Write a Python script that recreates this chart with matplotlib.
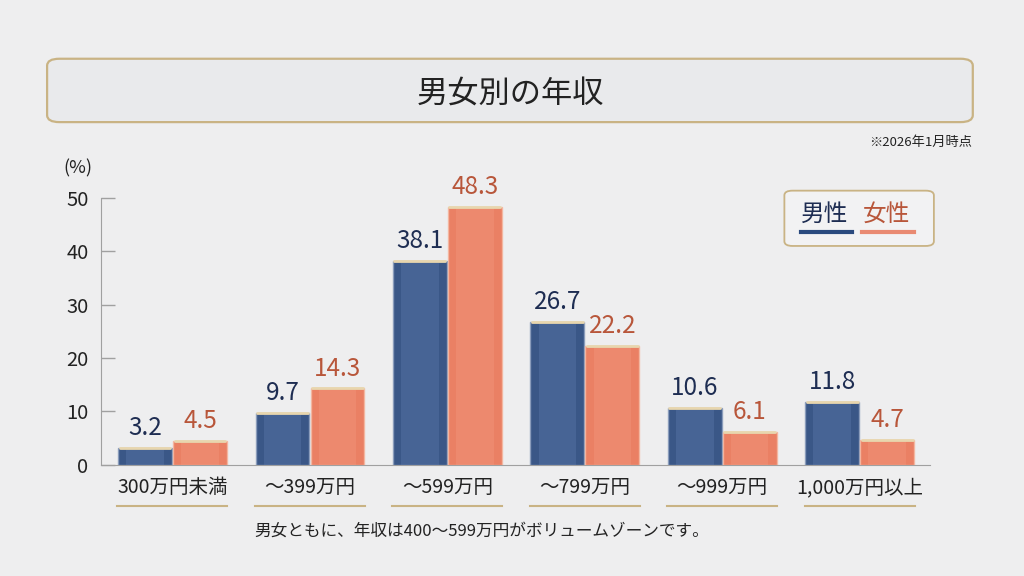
import matplotlib.pyplot as plt
from matplotlib.patches import FancyBboxPatch
from matplotlib.transforms import blended_transform_factory
import numpy as np

plt.rcParams['font.family'] = ['Noto Sans CJK JP', 'DejaVu Sans']

# データ
categories = ["300万円未満", "～399万円", "～599万円", "～799万円", "～999万円", "1,000万円以上"]
male = [3.2, 9.7, 38.1, 26.7, 10.6, 11.8]
female = [4.5, 14.3, 48.3, 22.2, 6.1, 4.7]
yticks = [0, 10, 20, 30, 40, 50]

BG = "#eeeeef"
NAVY = "#2a4a7e"
NAVY_TXT = "#1e2d52"
ORANGE = "#ea7455"
ORANGE_TXT = "#b8563a"
GOLD = "#c9b384"

fig = plt.figure(figsize=(10.24, 5.76), dpi=100)
fig.patch.set_facecolor(BG)

ax = fig.add_axes([0.0986, 0.193, 0.8094, 0.4635])
ax.set_facecolor("none")

x = np.arange(len(categories))
w = 0.39
off = 0.2

bm = ax.bar(x - off, male, w, color=NAVY, alpha=0.92, edgecolor="#8a9cbc", linewidth=1.0, zorder=3)
bf = ax.bar(x + off, female, w, color=ORANGE, alpha=0.9, edgecolor="#f4b6a0", linewidth=1.0, zorder=3)

# ガラス風のハイライトと上面
for bars, hl in ((bm, "#6f8cbf"), (bf, "#f6a58c")):
    for b in bars:
        bx, bw, bh = b.get_x(), b.get_width(), b.get_height()
        ax.bar(bx + bw * 0.5, bh, bw * 0.7, bottom=0, color=hl, alpha=0.25, zorder=4, linewidth=0)
        ax.plot([bx + 0.01, bx + bw - 0.01], [bh, bh], color="#e8d6ae", lw=2.0, zorder=5,
                solid_capstyle="round")

for i in range(len(categories)):
    ax.text(x[i] - off, male[i] + 1.3, f"{male[i]}", ha="center", va="bottom",
            fontsize=17.5, color=NAVY_TXT, zorder=6)
    ax.text(x[i] + off, female[i] + 1.3, f"{female[i]}", ha="center", va="bottom",
            fontsize=17.5, color=ORANGE_TXT, zorder=6)

ax.set_xlim(-0.52, 5.51)
ax.set_ylim(0, 50)
ax.set_yticks(yticks)
ax.tick_params(axis="y", direction="in", length=10, width=1, color="#a0a0a0",
               labelsize=14.5, labelcolor="#222222", pad=9)
ax.set_xticks(x)
ax.set_xticklabels(categories, fontsize=14, color="#222222")
ax.tick_params(axis="x", length=0, pad=9)

for s in ("top", "right"):
    ax.spines[s].set_visible(False)
ax.spines["left"].set_color("#a0a0a0")
ax.spines["bottom"].set_color("#a0a0a0")

# カテゴリ下の金色の線
tr = blended_transform_factory(ax.transData, ax.transAxes)
for xi in x:
    ax.plot([xi - 0.4, xi + 0.4], [-0.156, -0.156], color=GOLD, lw=1.5,
            transform=tr, clip_on=False)

ax.text(-0.045, 1.11, "(%)", transform=ax.transAxes, ha="left", va="center",
        fontsize=13, color="#222222")

# タイトル枠
title_box = FancyBboxPatch((0.046, 0.788), 0.904, 0.11, boxstyle="round,pad=0,rounding_size=0.012",
                           transform=fig.transFigure, facecolor="#e9eaec", edgecolor=GOLD,
                           linewidth=1.6)
fig.patches.append(title_box)
fig.text(0.498, 0.835, "男女別の年収", ha="center", va="center", fontsize=22.5, color="#222222")
fig.text(0.949, 0.752, "※2026年1月時点", ha="right", va="center", fontsize=9.5, color="#222222")

# 凡例
leg_box = FancyBboxPatch((0.766, 0.573), 0.146, 0.096, boxstyle="round,pad=0,rounding_size=0.008",
                         transform=fig.transFigure, facecolor="#f2f2f3", edgecolor=GOLD,
                         linewidth=1.3)
fig.patches.append(leg_box)
fig.text(0.805, 0.628, "男性", ha="center", va="center", fontsize=17, color=NAVY_TXT)
fig.text(0.866, 0.628, "女性", ha="center", va="center", fontsize=17, color=ORANGE_TXT)
fig.lines.append(plt.Line2D([0.782, 0.832], [0.597, 0.597], transform=fig.transFigure,
                            color=NAVY, lw=3))
fig.lines.append(plt.Line2D([0.842, 0.893], [0.597, 0.597], transform=fig.transFigure,
                            color="#e98a72", lw=3))

fig.text(0.47, 0.077, "男女ともに、年収は400～599万円がボリュームゾーンです。", ha="center",
         va="center", fontsize=12, color="#222222")

fig.savefig("out.png", dpi=100, facecolor=BG)
